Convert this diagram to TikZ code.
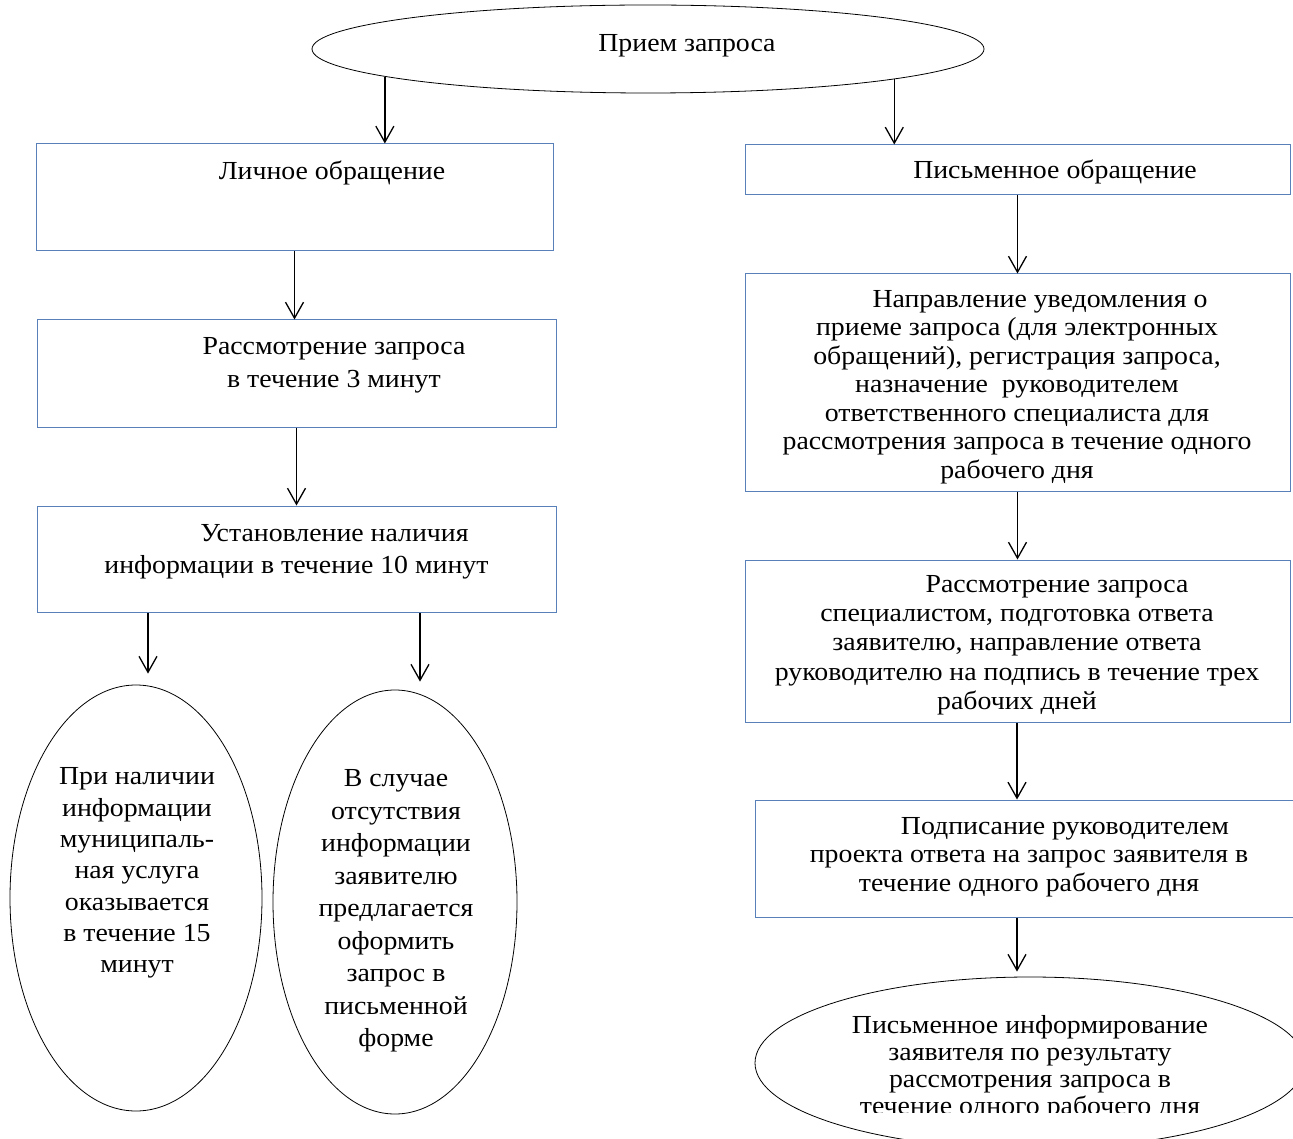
\documentclass[tikz,border=0pt]{standalone}
\usepackage{fontspec}
\setmainfont{Liberation Serif}[FakeStretch=1.07]
\usetikzlibrary{arrows.meta,shapes.geometric,calc}
\definecolor{boxblue}{RGB}{90,128,186}
\begin{document}
\begin{tikzpicture}[x=1pt,y=-1pt,
  box/.style={draw=boxblue,line width=1pt,rectangle,inner sep=0pt},
  oval/.style={draw=black,line width=0.8pt,ellipse,inner sep=0pt},
  txt/.style={inner sep=0pt,align=center,font=\fontsize{26}{28.5}\selectfont},
  arr/.style={draw=black,line width=1.3pt,-{Straight Barb[length=16pt,width=18pt,line width=1.3pt]}}]
\useasboundingbox (0,0) rectangle (1293,1139);
\clip (0,0) rectangle (1293,1139);

% shapes
\node[oval,minimum width=672pt,minimum height=88pt] (top) at (648,49) {};
\node[box,minimum width=517pt,minimum height=107pt] (L1) at (294.5,197.5) {};
\node[box,minimum width=519pt,minimum height=107pt] (L2) at (296.5,373.5) {};
\node[box,minimum width=519pt,minimum height=106pt] (L3) at (296.5,559) {};
\node[oval,minimum width=252pt,minimum height=426pt] (EL) at (136,898) {};
\node[oval,minimum width=244pt,minimum height=424pt] (ER) at (395,902) {};
\node[box,minimum width=545pt,minimum height=50pt] (R1) at (1017.5,170) {};
\node[box,minimum width=545pt,minimum height=217pt] (R2) at (1017.5,382.5) {};
\node[box,minimum width=545pt,minimum height=162pt] (R3) at (1017.5,641) {};
\node[box,minimum width=545pt,minimum height=117pt] (R4) at (1027.5,858.5) {};
\node[oval,minimum width=550pt,minimum height=172pt] (EB) at (1030,1063) {};

% texts
\node[txt] (tTop) at (687,46) {Прием запроса};
\node[txt] (tL1) at (332,173) {Личное обращение};
\node[txt,font=\fontsize{26}{33}\selectfont] (tL2) at (334,365) {Рассмотрение запроса\\в течение 3 минут};
\node[txt,font=\fontsize{26}{32}\selectfont] (tL3) at (296.5,552) {\hspace*{76pt}Установление наличия\\информации в течение 10 минут};
\node[txt,font=\fontsize{26}{31.3}\selectfont] (tEL) at (137,873) {При наличии\\информации\\муниципаль-\\ная услуга\\оказывается\\в течение 15\\минут};
\node[txt,font=\fontsize{26}{32.5}\selectfont] (tER) at (396,911) {В случае\\отсутствия\\информации\\заявителю\\предлагается\\оформить\\запрос в\\письменной\\форме};
\node[txt] (tR1) at (1055,172) {Письменное обращение};
\begin{scope}
\clip (R2.north west) rectangle (R2.south east);
\node[txt] (tR2) at (1017,387) {\hspace*{46pt}Направление уведомления о\\приеме запроса (для электронных\\обращений), регистрация запроса,\\назначение\ \ руководителем\\ответственного специалиста для\\рассмотрения запроса в течение одного\\рабочего дня};
\end{scope}
\node[txt,font=\fontsize{26}{29.3}\selectfont] (tR3) at (1017,645) {\hspace*{80pt}Рассмотрение запроса\\специалистом, подготовка ответа\\заявителю, направление ответа\\руководителю на подпись в течение трех\\рабочих дней};
\node[txt] (tR4) at (1029,857) {\hspace*{72pt}Подписание руководителем\\проекта ответа на запрос заявителя в\\течение одного рабочего дня};
\begin{scope}
\clip (700,970) rectangle (1293,1112);
\node[txt,font=\fontsize{26}{27}\selectfont] (tEB) at (1030,1068) {Письменное информирование\\заявителя по результату\\рассмотрения запроса в\\течение одного рабочего дня};
\end{scope}

% column positions for connectors
\coordinate (xa) at (148,0);
\coordinate (xb) at (420,0);
\coordinate (xc) at (1017,0);

% connectors
\draw[arr] (top.186) -- (top.186 |- L1.north);
\draw[arr] (top.353.8) -- (top.353.8 |- R1.north);
\draw[arr] (L1.south) -- (L1.south |- L2.north);
\draw[arr] (L2.south) -- (L2.south |- L3.north);
\draw[arr,shorten >=11pt] (L3.south -| xa) -- (xa |- EL.north);
\draw[arr,shorten >=16pt] (L3.south -| xb) -- ($(xb |- ER.north)+(0,8)$);
\draw[arr] (R1.south) -- (R2.north);
\draw[arr] (R2.south) -- (R3.north);
\draw[arr] (R3.south -| xc) -- (xc |- R4.north);
\draw[arr,shorten >=5pt] (R4.south -| xc) -- (xc |- EB.north);
\end{tikzpicture}
\end{document}
